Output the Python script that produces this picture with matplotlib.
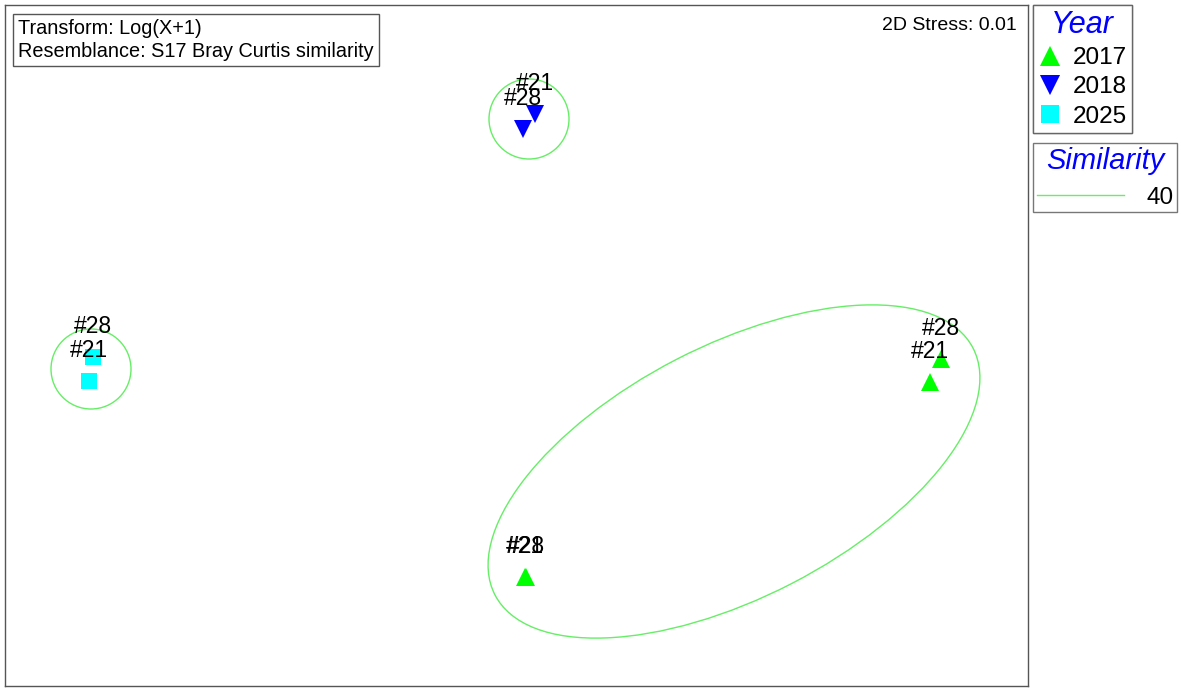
import matplotlib.pyplot as plt
from matplotlib.patches import Ellipse
from matplotlib.lines import Line2D

plt.rcParams['font.family'] = ['Liberation Sans', 'DejaVu Sans']

# nMDS coordinates (arbitrary units)
years = ['2017', '2018', '2025']
labels = {'2017': ['#21', '#28', '#21', '#28'],
          '2018': ['#21', '#28'],
          '2025': ['#21', '#28']}
xs = {'2017': [4.135, 4.245, 0.08, 0.09],
      '2018': [0.185, 0.065],
      '2025': [-4.275, -4.235]}
ys = {'2017': [-0.365, -0.135, -2.315, -2.315],
      '2018': [2.315, 2.165],
      '2025': [-0.355, -0.115]}
markers = {'2017': '^', '2018': 'v', '2025': 's'}
colors = {'2017': '#00ff00', '2018': '#0000ff', '2025': '#00ffff'}
sizes = {'2017': 13.5, '2018': 13.5, '2025': 12}

# 40% similarity contours: centre x, centre y, width, height, angle
sim_cx = [0.125, -4.255, 2.175]
sim_cy = [2.265, -0.235, -1.26]
sim_w = [0.80, 0.80, 5.38]
sim_h = [0.80, 0.80, 2.52]
sim_ang = [0, 0, 27.3]
sim_color = '#66ee66'

fig = plt.figure(figsize=(11.81, 6.92), dpi=100)
ax = fig.add_axes([5 / 1181, 6 / 692, 1023 / 1181, 681 / 692])
ax.set_xlim(-5.115, 5.115)
ax.set_ylim(-3.405, 3.405)
ax.set_aspect('equal', adjustable='box')
ax.set_xticks([])
ax.set_yticks([])
for s in ax.spines.values():
    s.set_color('#555555')
    s.set_linewidth(1)

for cx, cy, w, h, a in zip(sim_cx, sim_cy, sim_w, sim_h, sim_ang):
    ax.add_patch(Ellipse((cx, cy), w, h, angle=a, fill=False,
                         edgecolor=sim_color, lw=1))

for yr in years:
    ax.plot(xs[yr], ys[yr], ls='none', marker=markers[yr], color=colors[yr],
            markersize=sizes[yr], markeredgewidth=0)
    for x, y, lab in zip(xs[yr], ys[yr], labels[yr]):
        ax.annotate(lab, (x, y), xytext=(0, 22), textcoords='offset points',
                    ha='center', va='center', fontsize=16.5)

ax.text(0.013, 0.98, 'Transform: Log(X+1)\nResemblance: S17 Bray Curtis similarity',
        transform=ax.transAxes, ha='left', va='top', fontsize=14.3,
        linespacing=1.3,
        bbox=dict(boxstyle='square,pad=0.25', fc='white', ec='#555555', lw=1))
ax.text(0.989, 0.982, '2D Stress: 0.01', transform=ax.transAxes,
        ha='right', va='top', fontsize=14)

# legends
yr_handles = [Line2D([], [], ls='none', marker=markers[y], color=colors[y],
                     markersize=sizes[y] + 1, markeredgewidth=0) for y in years]
leg1 = fig.legend(yr_handles, years, loc='upper left',
                  bbox_to_anchor=(1033 / 1181, 1 - 5 / 692),
                  title='Year', fontsize=17.5, frameon=True, fancybox=False,
                  edgecolor='#555555', handlelength=1.0, handletextpad=0.45,
                  borderpad=0.2, labelspacing=0.3, borderaxespad=0)
leg1.get_title().set_color('#0000ff')
leg1.get_title().set_fontstyle('italic')
leg1.get_title().set_fontsize(22)
leg1.get_frame().set_linewidth(1)

sim_handle = [Line2D([], [], color=sim_color, lw=1)]
leg2 = fig.legend(sim_handle, ['40'], loc='upper left',
                  bbox_to_anchor=(1033 / 1181, 1 - 143 / 692),
                  title='Similarity', fontsize=17.5, frameon=True, fancybox=False,
                  edgecolor='#555555', handlelength=3.6, handletextpad=0.9,
                  borderpad=0.15, borderaxespad=0)
leg2.get_title().set_color('#0000ff')
leg2.get_title().set_fontstyle('italic')
leg2.get_title().set_fontsize(21)
leg2.get_frame().set_linewidth(1)
fig.add_artist(leg1)

fig.savefig('out.png', dpi=100)
